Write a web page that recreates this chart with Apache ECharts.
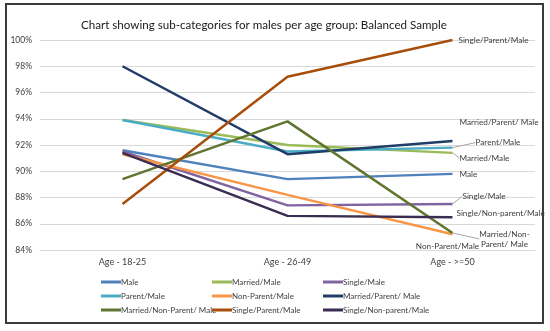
<!DOCTYPE html>
<html><head><meta charset="utf-8">
<script src="https://cdn.jsdelivr.net/npm/echarts@6/dist/echarts.min.js"></script>
<style>html,body{margin:0;padding:0;background:#fff}#c{width:550px;height:331px}</style>
</head><body><div id="c"></div>
<script>
var categories = ['Age - 18-25', 'Age - 26-49', 'Age - >=50'];
var yTicks = [84, 86, 88, 90, 92, 94, 96, 98, 100];
var seriesNames = ['Male', 'Married/Male', 'Single/Male', 'Parent/Male', 'Non-Parent/Male',
  'Married/Parent/ Male', 'Married/Non-Parent/ Male', 'Single/Parent/Male', 'Single/Non-parent/Male'];
var male = [91.6, 89.4, 89.8];
var marriedMale = [93.9, 92.0, 91.4];
var singleMale = [91.5, 87.4, 87.5];
var parentMale = [93.9, 91.5, 91.8];
var nonParentMale = [91.3, 88.2, 85.2];
var marriedParentMale = [98.0, 91.3, 92.3];
var marriedNonParentMale = [89.4, 93.8, 85.3];
var singleParentMale = [87.5, 97.2, 100.0];
var singleNonParentMale = [91.4, 86.6, 86.5];
var endLabels = ['Male', 'Married/Male', 'Single/Male', 'Parent/Male', 'Non-Parent/Male',
  'Married/Parent/ Male', 'Married/Non-\nParent/ Male', 'Single/Parent/Male', 'Single/Non-parent/Male'];

var values = [male, marriedMale, singleMale, parentMale, nonParentMale, marriedParentMale,
  marriedNonParentMale, singleParentMale, singleNonParentMale];
var colors = ['#4F81BD', '#9BBB59', '#8064A2', '#4BACC6', '#F79646', '#1F3D66', '#5F7530', '#A84E0C', '#3B2D52'];
// label placement (style): [dx, dy, align, leader]
var labelPos = [
  [7, 0, 'left', false],
  [7, 5, 'left', true],
  [10, -8, 'left', true],
  [23, -5, 'left', true],
  [-5, 12, 'center', false],
  [7, -19, 'left', false],
  [52, 6, 'center', true],
  [6, 0, 'left', false],
  [4, -4, 'left', false]
];
var font = 'Lato, "Open Sans", sans-serif';
var chart = echarts.init(document.getElementById('c'), null, {renderer: 'canvas'});
var series = seriesNames.map(function (name, k) {
  var lp = labelPos[k];
  return {
    name: name, type: 'line', symbol: 'circle', symbolSize: 0.01, showSymbol: true, z: 3,
    lineStyle: {width: 2.5, color: colors[k]},
    itemStyle: {color: colors[k]},
    emphasis: {disabled: true},
    data: values[k].map(function (v, i) {
      if (i !== values[k].length - 1) return v;
      return {value: v, label: {
        show: true, position: 'inside', formatter: endLabels[k],
        fontFamily: font, fontSize: 8.2, color: '#404040', lineHeight: 10,
        align: lp[2], verticalAlign: 'middle'
      }};
    }),
    labelLayout: function (p) {
      if (p.dataIndex !== values[k].length - 1) return {};
      return {dx: lp[0], dy: lp[1]};
    },
    labelLine: {show: lp[3], lineStyle: {color: '#A6A6A6', width: 1}, length2: 0, smooth: false}
  };
});
function legendCol(left, names) {
  return {
    orient: 'vertical', left: left, top: 273, itemGap: 6,
    itemWidth: 20, itemHeight: 3, icon: 'rect',
    textStyle: {fontFamily: font, fontSize: 8, color: '#404040', padding: [0, 0, 0, -5]},
    data: names
  };
}
chart.setOption({
  animation: false,
  color: colors,
  title: {
    text: 'Chart showing sub-categories for males per age group: Balanced Sample',
    left: 76, top: 14,
    textStyle: {fontFamily: font, fontSize: 11.6, fontWeight: 'normal', color: '#1a1a1a'}
  },
  grid: {left: 40, right: 15, top: 40, bottom: 81},
  legend: [
    legendCol(96, [seriesNames[0], seriesNames[3], seriesNames[6]]),
    legendCol(207, [seriesNames[1], seriesNames[4], seriesNames[7]]),
    legendCol(318, [seriesNames[2], seriesNames[5], seriesNames[8]])
  ],
  xAxis: {
    type: 'category', data: categories, boundaryGap: true,
    axisLine: {lineStyle: {color: '#D9D9D9'}}, axisTick: {show: false},
    axisLabel: {fontFamily: font, fontSize: 9, color: '#404040', margin: 8}
  },
  yAxis: {
    type: 'value', min: yTicks[0], max: yTicks[yTicks.length - 1], interval: 2,
    axisLine: {show: false}, axisTick: {show: false},
    splitLine: {lineStyle: {color: '#D9D9D9'}},
    axisLabel: {fontFamily: font, fontSize: 8.5, color: '#404040', margin: 8,
      formatter: function (v) { return v + '%'; }}
  },
  graphic: [{
    type: 'rect', shape: {x: 6, y: 4, width: 537, height: 319},
    style: {fill: 'none', stroke: '#3a3a3a', lineWidth: 2}, silent: true, z: 0
  }],
  series: series
});
</script></body></html>
